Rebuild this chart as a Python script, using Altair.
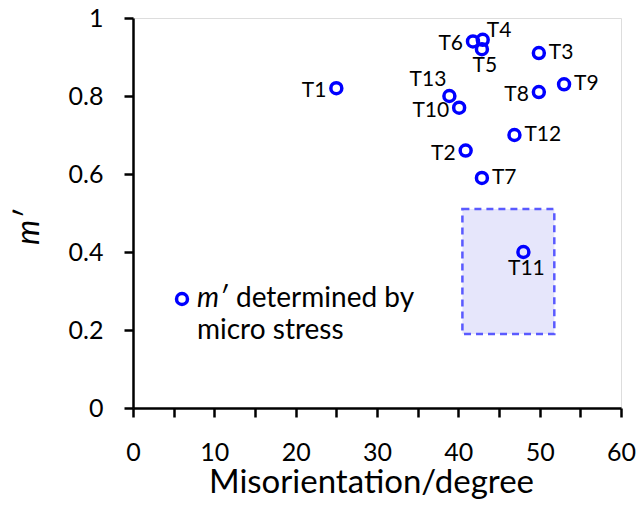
import altair as alt
import pandas as pd

# ---- data ----
labels = ["T1", "T2", "T3", "T4", "T5", "T6", "T7", "T8", "T9", "T10", "T11", "T12", "T13"]
misorientation = [25.0, 40.9, 49.9, 43.0, 42.9, 41.8, 42.9, 49.9, 53.0, 40.1, 48.0, 46.9, 38.9]
m_prime = [0.82, 0.66, 0.91, 0.944, 0.92, 0.94, 0.59, 0.81, 0.83, 0.77, 0.40, 0.70, 0.80]
label_side = ["left", "left", "right", "above-right", "below", "left", "right",
              "left", "right", "left", "below", "right", "above-left"]

box_x = [40.5, 51.8]
box_y = [0.19, 0.51]

legend_symbol_text = "m\u2032"
legend_line1 = "determined by"
legend_line2 = "micro stress"

x_title = "Misorientation/degree"
y_title = "m\u2032"

FONT = "Lato"
BLUE = "#0000FF"

df = pd.DataFrame({"label": labels, "x": misorientation, "y": m_prime, "side": label_side})
box = pd.DataFrame({"x": [box_x[0]], "x2": [box_x[1]], "y": [box_y[0]], "y2": [box_y[1]]})

xscale = alt.Scale(domain=[0, 60], nice=False, zero=False)
yscale = alt.Scale(domain=[0, 1], nice=False, zero=False)

x_axis = alt.Axis(
    values=list(range(0, 61, 5)),
    labelExpr="datum.value % 10 == 0 ? datum.label : ''",
    grid=False, domainColor="black", domainWidth=2.5,
    tickColor="black", tickWidth=2.5, tickSize=9,
    labelFont=FONT, labelFontSize=25, labelColor="black",
    labelBaseline="alphabetic", labelPadding=43, labelFlush=False,
    title=x_title, titleFont=FONT, titleFontSize=33, titleFontWeight="normal",
    titleColor="black", titleX=238, titleY=84, titleBaseline="alphabetic", titleAlign="center",
)
y_axis = alt.Axis(
    values=[i / 10 for i in range(0, 11)],
    labelExpr="(round(datum.value*10) % 2 == 0) ? format(datum.value, '.1~f') : ''",
    grid=False, domainColor="black", domainWidth=2.5,
    tickColor="black", tickWidth=2.5, tickSize=9,
    labelFont=FONT, labelFontSize=25, labelColor="black",
    labelPadding=21, labelFlush=False,
    title=y_title, titleFont=FONT, titleFontSize=32, titleFontWeight="normal",
    titleFontStyle="italic", titleColor="black", titleAngle=-90,
    titleX=-95, titleY=209, titleBaseline="alphabetic", titleAlign="center",
)

rect = alt.Chart(box).mark_rect(
    fill="#E6E6FB", stroke="#5A5AFF", strokeDash=[7, 5], strokeWidth=2.5
).encode(
    x=alt.X("x:Q", scale=xscale, axis=x_axis),
    x2="x2:Q",
    y=alt.Y("y:Q", scale=yscale, axis=y_axis),
    y2="y2:Q",
)

points = alt.Chart(df).mark_point(
    shape="circle", filled=False, color=BLUE, size=120, strokeWidth=3.5, opacity=1
).encode(x=alt.X("x:Q", scale=xscale), y=alt.Y("y:Q", scale=yscale))

side_style = {
    "left": dict(align="right", dx=-10, dy=3),
    "right": dict(align="left", dx=10, dy=0),
    "above-right": dict(align="left", dx=4, dy=-9),
    "above-left": dict(align="right", dx=-3, dy=-16),
    "below": dict(align="center", dx=3, dy=17),
}

text_layers = []
for side, st in side_style.items():
    text_layers.append(
        alt.Chart(df).transform_filter(alt.datum.side == side).mark_text(
            font=FONT, fontSize=21, color="black", baseline="middle", **st
        ).encode(x=alt.X("x:Q", scale=xscale), y=alt.Y("y:Q", scale=yscale), text="label:N")
    )

leg_df = pd.DataFrame({"sym": [legend_symbol_text], "l1": [legend_line1], "l2": [legend_line2]})
leg_point = alt.Chart(leg_df).mark_point(
    shape="circle", filled=False, color=BLUE, size=120, strokeWidth=3.5, opacity=1
).encode(x=alt.value(49), y=alt.value(281))
leg_sym = alt.Chart(leg_df).mark_text(
    font=FONT, fontSize=28, fontStyle="italic", color="black", align="left", baseline="middle"
).encode(x=alt.value(64), y=alt.value(281), text="sym:N")
leg_l1 = alt.Chart(leg_df).mark_text(
    font=FONT, fontSize=28, color="black", align="left", baseline="middle"
).encode(x=alt.value(103), y=alt.value(281), text="l1:N")
leg_l2 = alt.Chart(leg_df).mark_text(
    font=FONT, fontSize=28, color="black", align="left", baseline="middle"
).encode(x=alt.value(64), y=alt.value(313), text="l2:N")

chart = alt.layer(rect, points, *text_layers, leg_point, leg_sym, leg_l1, leg_l2).properties(
    width=488, height=390,
    autosize=alt.AutoSizeParams(type="none"),
    padding={"left": 125, "top": 10, "right": 15, "bottom": 91},
).configure_view(stroke=None).configure(background="white")

chart.save("out.html", embed_options={"renderer": "svg", "actions": False})
